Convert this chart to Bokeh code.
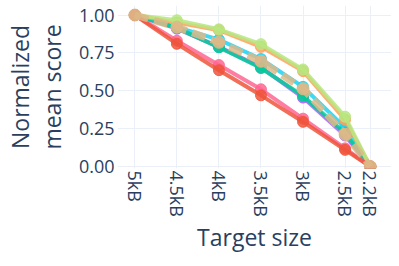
import math
from bokeh.plotting import figure
from bokeh.models import Range1d, FixedTicker
from bokeh.embed import file_html
from bokeh.resources import INLINE

sizes = [5.0, 4.5, 4.0, 3.5, 3.0, 2.5, 2.2]
tick_labels = ["5kB", "4.5kB", "4kB", "3.5kB", "3kB", "2.5kB", "2.2kB"]

series_purple = [1.0, 0.91, 0.79, 0.655, 0.455, 0.205, 0.0]
series_cyan = [1.0, 0.92, 0.838, 0.71, 0.526, 0.256, 0.0]
series_teal = [1.0, 0.915, 0.787, 0.65, 0.466, 0.22, 0.0]
series_orange = [1.0, 0.95, 0.90, 0.79, 0.63, 0.31, 0.0]
series_lime = [1.0, 0.966, 0.906, 0.808, 0.641, 0.329, 0.0]
series_pink = [1.0, 0.83, 0.67, 0.51, 0.316, 0.12, 0.0]
series_red = [1.0, 0.81, 0.636, 0.47, 0.295, 0.11, 0.0]
series_tan = [1.0, 0.92, 0.82, 0.695, 0.513, 0.213, 0.0]

TEXT = "#2a3f5f"
GRID = "#EBF0F8"
FONT = "Open Sans"

p = figure(width=391, height=258, output_backend="svg", toolbar_location=None,
           x_range=Range1d(5.206, 1.948), y_range=Range1d(-0.013, 1.063),
           min_border_left=113, min_border_right=0, min_border_top=5,
           min_border_bottom=90)
p.outline_line_color = None
p.background_fill_color = "white"

solid = [
    (series_purple, "#AB63FA"),
    (series_cyan, "#19D3F3"),
    (series_teal, "#00CC96"),
    (series_orange, "#FFA15A"),
    (series_lime, "#B6E880"),
    (series_pink, "#FF6692"),
    (series_red, "#EF553B"),
]
for ys, c in solid:
    p.line(sizes, ys, line_color=c, line_width=4, line_alpha=0.85)
    p.scatter(sizes, ys, size=11, fill_color=c, line_color=c, fill_alpha=0.85, line_alpha=0.85)

p.line(sizes, series_tan, line_color="#DEB887", line_width=7, line_alpha=0.85, line_dash="14 6")
p.scatter(sizes, series_tan, size=12, fill_color="#DEB887", line_color="#DEB887", fill_alpha=0.9, line_alpha=0.9)

p.xaxis.ticker = FixedTicker(ticks=sizes)
p.xaxis.major_label_overrides = {s: l for s, l in zip(sizes, tick_labels)}
p.xaxis.major_label_orientation = -math.pi / 2
p.yaxis.ticker = FixedTicker(ticks=[0, 0.25, 0.5, 0.75, 1.0])
p.yaxis.major_label_overrides = {0: "0.00", 0.25: "0.25", 0.5: "0.50", 0.75: "0.75", 1.0: "1.00"}

for ax in (p.xaxis[0], p.yaxis[0]):
    ax.axis_line_color = None
    ax.major_tick_line_color = None
    ax.minor_tick_line_color = None
    ax.major_tick_out = 0
    ax.major_tick_in = 0
    ax.minor_tick_out = 0
    ax.minor_tick_in = 0
    ax.major_label_text_font = FONT
    ax.major_label_text_color = TEXT
    ax.major_label_text_font_size = "18px"
    ax.axis_label_text_font = FONT
    ax.axis_label_text_color = TEXT
    ax.axis_label_text_font_size = "23px"
    ax.axis_label_text_font_style = "normal"

p.xaxis.axis_label = "Target size"
p.yaxis.axis_label = "Normalized\nmean score"
p.yaxis.axis_label_text_line_height = 1.0
p.xaxis.major_label_standoff = 2
p.yaxis.major_label_standoff = 3
p.xaxis.axis_label_standoff = 1
p.yaxis.axis_label_standoff = 8

p.xgrid.grid_line_color = GRID
p.ygrid.grid_line_color = GRID
p.xgrid.grid_line_width = 1
p.ygrid.grid_line_width = 1

open("out.html", "w").write(file_html(p, INLINE))
